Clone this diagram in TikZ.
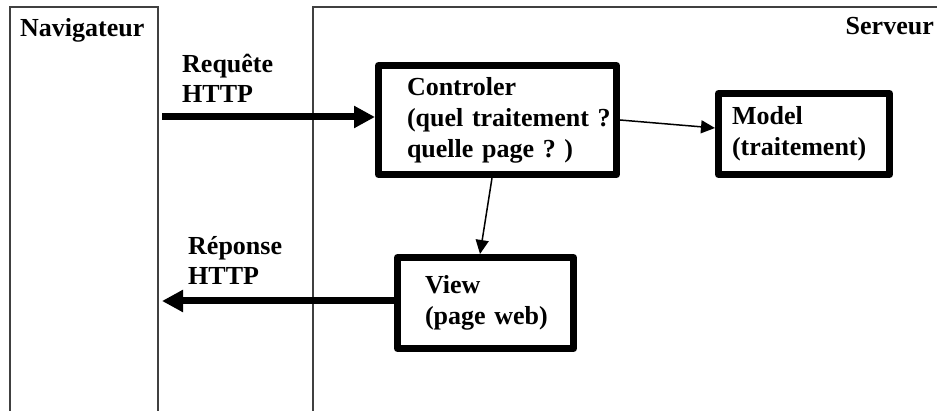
\documentclass[tikz,border=0pt]{standalone}
\usepackage{fontspec}
\setmainfont{Liberation Serif}
\usetikzlibrary{arrows.meta}
\frenchspacing

\tikzset{
    cadre/.style={line width=1.3pt, black!75},
    titre/.style={inner sep=0pt, font=\bfseries\fontsize{26}{30}\selectfont},
    etiq/.style={inner sep=0pt, align=left, font=\bfseries\fontsize{26}{30}\selectfont},
    bloc/.style={draw, line width=7pt, line join=round, align=left, inner ysep=0pt,
        font=\bfseries\fontsize{26}{31}\selectfont},
    grosse/.style={line width=7pt, -{Triangle[length=21pt,width=21pt]}},
    fine/.style={line width=1.5pt, -{Triangle[length=14pt,width=13pt]}}
}

\begin{document}
\begin{tikzpicture}[x=1pt,y=-1pt]
        \useasboundingbox (0,0) rectangle (937,411);

        % les deux zones
        \draw[cadre] (10,411) -- (10,7) -- (158,7) -- (158,411);
        \draw[cadre] (313,411) -- (313,7) -- (937,7);
        \node[titre, anchor=base west] (nav) at (20,37) {Navigateur};
        \node[titre, anchor=base east] (serv) at (934,35) {Serveur};

        % les blocs MVC
        \node[bloc, minimum width=238pt, minimum height=109pt, inner xsep=28.5pt, text width=181pt]
            (ctrl) at (497.5,120) {Controler\\\mbox{(quel traitement ?}\\\mbox{quelle page ? )}};
        \node[bloc, minimum width=171pt, minimum height=81pt, inner xsep=13.5pt, text width=144pt]
            (model) at (804,134) {Model\\\mbox{(traitement)}};
        \node[bloc, minimum width=176pt, minimum height=91pt, inner xsep=27.5pt, text width=121pt]
            (view) at (485.5,303) {View\\\mbox{(page web)}};

        \node[etiq, anchor=west] (req) at (182,78) {Requête\\HTTP};
        \node[etiq, anchor=west] (rep) at (188,260) {Réponse\\HTTP};

        \coordinate (dep) at (162,117);
        \coordinate (arr) at (162,301);

        \draw[grosse] (dep) -- (dep -| ctrl.west);
        \draw[fine] (ctrl.east) -- ([yshift=6pt]model.west);
        \draw[fine] ([xshift=-5.5pt]ctrl.south) -- ([xshift=-5.5pt]view.north);
        \draw[grosse] (arr -| view.west) -- (arr);
    \end{tikzpicture}
\end{document}
